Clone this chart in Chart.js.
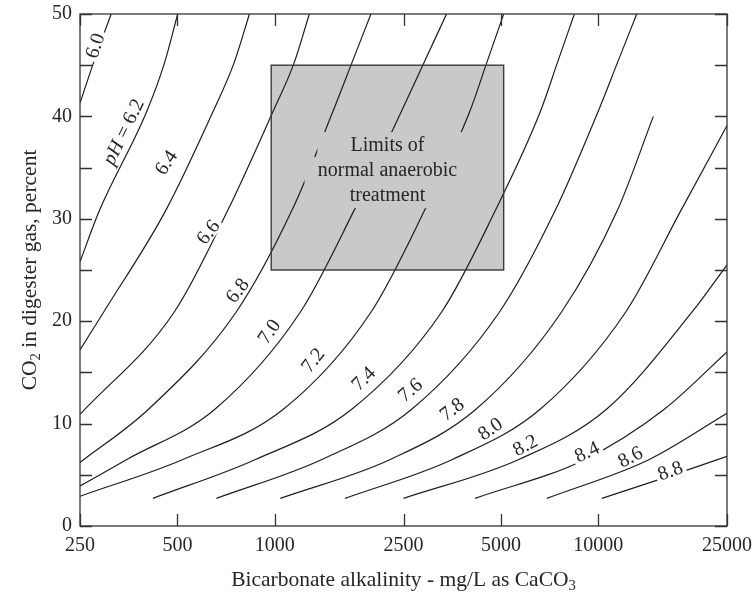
<!DOCTYPE html>
<html>
<head>
<meta charset="utf-8">
<script src="https://cdn.jsdelivr.net/npm/chart.js@4.4.1/dist/chart.umd.min.js"></script>
<style>
  html, body { margin: 0; padding: 0; background: #ffffff; }
  #wrap { width: 753px; height: 595px; position: relative; }
</style>
</head>
<body>
<div id="wrap"><canvas id="chart" width="753" height="595"></canvas></div>
<script>
// Axis ticks
const xTicks = [250, 500, 1000, 2500, 5000, 10000, 25000];
const yTicks = [0, 10, 20, 30, 40, 50];
const yMinorTicks = [5, 15, 25, 35, 45];

// pH lines: bicarbonate alkalinity (mg/L as CaCO3) against CO2 in gas (%)
const ph60Alk = [250, 275, 312];
const ph60Co2 = [41.3, 45.2, 50];
const ph62Alk = [250, 287, 401, 456, 501];
const ph62Co2 = [25.8, 30.8, 40.4, 45.2, 50];
const ph64Alk = [250, 296, 460, 643, 748, 835];
const ph64Co2 = [17.2, 20.9, 30.8, 40.4, 45.2, 50];
const ph66Alk = [250, 489, 715, 985, 1147, 1279];
const ph66Co2 = [10.9, 20.9, 30.8, 40.4, 45.2, 50];
const ph68Alk = [250, 407, 760, 1129, 1509, 1730, 1983];
const ph68Co2 = [6.2, 11.4, 20.9, 30.8, 40.4, 45.2, 50];
const ph70Alk = [250, 349, 653, 1200, 1757, 2456, 2887, 3396];
const ph70Co2 = [3.9, 6.5, 11.4, 20.9, 30.8, 40.4, 45.2, 50];
const ph72Alk = [250, 520, 1063, 1985, 2902, 3998, 4517, 5102];
const ph72Co2 = [2.9, 6.5, 11.4, 20.9, 30.8, 40.4, 45.2, 50];
const ph74Alk = [420, 872, 1730, 3280, 4805, 6608, 7468, 8436];
const ph74Co2 = [2.7, 6.5, 11.4, 20.9, 30.8, 40.4, 45.2, 50];
const ph76Alk = [660, 1399, 2650, 4951, 7357, 9966, 11449, 13150];
const ph76Co2 = [2.7, 6.5, 11.4, 20.9, 30.8, 40.4, 45.2, 50];
const ph78Alk = [1040, 2275, 4187, 7700, 11450, 14800];
const ph78Co2 = [2.7, 6.5, 11.4, 20.9, 30.8, 40.0];
const ph80Alk = [1650, 3540, 6612, 12160, 18000, 25000];
const ph80Co2 = [2.7, 6.5, 11.4, 20.9, 30.8, 39.1];
const ph82Alk = [2500, 5680, 10605, 19500, 25000];
const ph82Co2 = [2.7, 6.5, 11.4, 20.9, 25.5];
const ph84Alk = [4160, 9100, 16000, 25000];
const ph84Co2 = [2.7, 6.5, 11.4, 17.0];
const ph86Alk = [6935, 14385, 25000];
const ph86Co2 = [2.7, 6.5, 11.0];
const ph88Alk = [10260, 16690, 25000];
const ph88Co2 = [2.7, 4.9, 6.8];

// Line labels: text, anchor (alkalinity, CO2) and text angle in degrees
const lineLabels = ['6.0', '6.2', '6.4', '6.6', '6.8', '7.0', '7.2', '7.4', '7.6', '7.8', '8.0', '8.2', '8.4', '8.6', '8.8'];
const labelAlk = [278, 340, 461, 622, 766, 960, 1311, 1879, 2620, 3527, 4634, 5943, 9220, 12550, 16690];
const labelCo2 = [46.9, 38.5, 35.5, 28.7, 23.0, 19.0, 16.2, 14.4, 13.3, 11.4, 9.5, 7.9, 7.25, 6.76, 5.4];
const labelAngle = [-72, -64, -56, -52, -52, -55, -52, -45, -40, -37, -35, -28, -25, -27, -20];

// Normal operating zone
const limitAlk = [975, 5100];
const limitCo2 = [25, 45];
const limitText = ['Limits of', 'normal anaerobic', 'treatment'];
// horizontal extent of the clear space kept round each caption line, px from its centre
const captionGapLeft = [70, 83, 48];
const captionGapRight = [82, 84, 82];

const FONT = "'Liberation Serif', 'Times New Roman', serif";
const INK = '#262626';
const LINE = '#1e1e1e';

const curves = [
  [ph60Alk, ph60Co2], [ph62Alk, ph62Co2], [ph64Alk, ph64Co2], [ph66Alk, ph66Co2],
  [ph68Alk, ph68Co2], [ph70Alk, ph70Co2], [ph72Alk, ph72Co2], [ph74Alk, ph74Co2],
  [ph76Alk, ph76Co2], [ph78Alk, ph78Co2], [ph80Alk, ph80Co2], [ph82Alk, ph82Co2],
  [ph84Alk, ph84Co2], [ph86Alk, ph86Co2], [ph88Alk, ph88Co2]
];

const datasets = curves.map(([alk, co2], i) => ({
  label: 'pH ' + lineLabels[i],
  data: alk.map((a, j) => ({ x: a, y: co2[j] })),
  borderColor: LINE,
  borderWidth: 1.2,
  pointRadius: 0,
  fill: false,
  cubicInterpolationMode: 'monotone'
}));

// Draws text made of runs; runs flagged sub are set smaller and lower
function richText(ctx, runs, size, x, y) {
  const widths = runs.map(r => {
    ctx.font = (r.italic ? 'italic ' : '') + (r.sub ? size * 0.68 : size) + 'px ' + FONT;
    return ctx.measureText(r.t).width;
  });
  const total = widths.reduce((a, b) => a + b, 0);
  let cx = x - total / 2;
  runs.forEach((r, i) => {
    ctx.font = (r.italic ? 'italic ' : '') + (r.sub ? size * 0.68 : size) + 'px ' + FONT;
    ctx.textAlign = 'left';
    ctx.textBaseline = 'middle';
    ctx.fillText(r.t, cx, r.sub ? y + size * 0.3 : y);
    cx += widths[i];
  });
  return total;
}

const decor = {
  id: 'decor',
  beforeDatasetsDraw(chart) {
    const { ctx, scales: { x, y } } = chart;
    const x0 = x.getPixelForValue(limitAlk[0]), x1 = x.getPixelForValue(limitAlk[1]);
    const y0 = y.getPixelForValue(limitCo2[1]), y1 = y.getPixelForValue(limitCo2[0]);
    ctx.save();
    ctx.fillStyle = '#c8c9cb';
    ctx.fillRect(x0, y0, x1 - x0, y1 - y0);
    ctx.restore();
  },
  afterDatasetsDraw(chart) {
    const { ctx, chartArea: area, scales: { x, y } } = chart;
    ctx.save();

    // zone outline and its caption, with the lines broken behind the words
    const x0 = x.getPixelForValue(limitAlk[0]), x1 = x.getPixelForValue(limitAlk[1]);
    const y0 = y.getPixelForValue(limitCo2[1]), y1 = y.getPixelForValue(limitCo2[0]);
    const cx = (x0 + x1) / 2, cy = (y0 + y1) / 2 + 3;
    const lh = 25;
    ctx.fillStyle = '#c8c9cb';
    limitText.forEach((t, i) => {
      const ty = cy + (i - 1) * lh;
      ctx.fillRect(cx - captionGapLeft[i], ty - lh / 2 - 1,
        captionGapLeft[i] + captionGapRight[i], lh + 1);
    });
    ctx.strokeStyle = '#3a3a3a';
    ctx.lineWidth = 1.4;
    ctx.strokeRect(x0, y0, x1 - x0, y1 - y0);
    ctx.font = '20px ' + FONT;
    ctx.fillStyle = INK;
    ctx.textAlign = 'center';
    ctx.textBaseline = 'middle';
    limitText.forEach((t, i) => ctx.fillText(t, cx, cy + (i - 1) * lh));

    // pH labels set along their lines
    lineLabels.forEach((t, i) => {
      const px = x.getPixelForValue(labelAlk[i]);
      const py = y.getPixelForValue(labelCo2[i]);
      ctx.save();
      ctx.translate(px, py);
      ctx.rotate(labelAngle[i] * Math.PI / 180);
      const runs = i === 1 ? [{ t: 'pH', italic: true }, { t: ' = ' + t }] : [{ t }];
      let w = 0;
      runs.forEach(r => {
        ctx.font = (r.italic ? 'italic ' : '') + '20px ' + FONT;
        w += ctx.measureText(r.t).width;
      });
      ctx.fillStyle = '#ffffff';
      ctx.fillRect(-w / 2 - 3, -8, w + 6, 16);
      ctx.fillStyle = INK;
      richText(ctx, runs, 20, 0, 1);
      ctx.restore();
    });

    // frame and inward ticks on all four sides
    ctx.strokeStyle = '#333333';
    ctx.lineWidth = 1.3;
    ctx.strokeRect(area.left, area.top, area.right - area.left, area.bottom - area.top);
    const tl = 12;
    ctx.beginPath();
    xTicks.forEach(v => {
      const px = Math.round(x.getPixelForValue(v)) + 0.5;
      ctx.moveTo(px, area.bottom); ctx.lineTo(px, area.bottom - tl);
      ctx.moveTo(px, area.top); ctx.lineTo(px, area.top + tl);
    });
    yTicks.concat(yMinorTicks).forEach(v => {
      const py = Math.round(y.getPixelForValue(v)) + 0.5;
      ctx.moveTo(area.left, py); ctx.lineTo(area.left + tl, py);
      ctx.moveTo(area.right, py); ctx.lineTo(area.right - tl, py);
    });
    ctx.stroke();

    // tick labels
    ctx.fillStyle = INK;
    ctx.font = '20px ' + FONT;
    ctx.textAlign = 'center';
    ctx.textBaseline = 'middle';
    xTicks.forEach(v => ctx.fillText(String(v), x.getPixelForValue(v), area.bottom + 20));
    ctx.textAlign = 'right';
    yTicks.forEach(v => ctx.fillText(String(v), area.left - 8, y.getPixelForValue(v)));

    // axis titles
    richText(ctx, [{ t: 'Bicarbonate alkalinity - mg/L as CaCO' }, { t: '3', sub: true }], 21.5,
      (area.left + area.right) / 2, area.bottom + 54);
    ctx.save();
    ctx.translate(30, (area.top + area.bottom) / 2);
    ctx.rotate(-Math.PI / 2);
    richText(ctx, [{ t: 'CO' }, { t: '2', sub: true }, { t: ' in digester gas, percent' }], 21.5, 0, 0);
    ctx.restore();

    ctx.restore();
  }
};

new Chart(document.getElementById('chart'), {
  type: 'line',
  data: { datasets },
  options: {
    responsive: false,
    animation: false,
    events: [],
    layout: { padding: { left: 80, right: 26, top: 14, bottom: 69 } },
    plugins: { legend: { display: false }, tooltip: { enabled: false } },
    scales: {
      x: { type: 'logarithmic', min: 250, max: 25000, display: false },
      y: { type: 'linear', min: 0, max: 50, display: false }
    }
  },
  plugins: [decor]
});
</script>
</body>
</html>
